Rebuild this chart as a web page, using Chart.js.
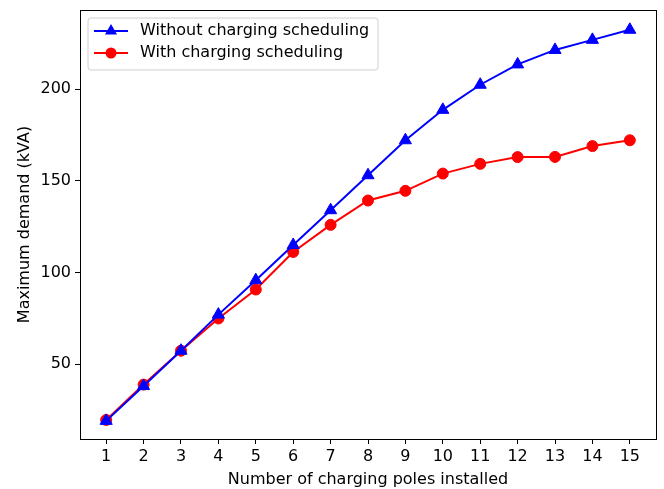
<!DOCTYPE html>
<html lang="en">
<head>
    <meta charset="UTF-8">
    <title>Maximum demand vs charging poles</title>
    <style>
        html, body { margin: 0; padding: 0; background: #fff; }
        .wrap { width: 664px; height: 489px; }
    </style>
</head>
<body>
    <div class="wrap"><canvas id="demandChart" width="664" height="489"></canvas></div>
    <script src="https://cdn.jsdelivr.net/npm/chart.js"></script>
    <script>
        // Number of charging poles installed
        const poles = [1, 2, 3, 4, 5, 6, 7, 8, 9, 10, 11, 12, 13, 14, 15];
        // Maximum demand (kVA)
        const withoutScheduling = [19, 38, 57.3, 77, 95.8, 115, 134, 153.1, 172.2, 188.8, 202.5, 213.6, 221.5, 227, 232.5];
        const withScheduling = [19.5, 38.8, 57.3, 74.9, 90.7, 111.2, 126, 139.3, 144.6, 154, 159.3, 163, 163.1, 169, 172.2];
        const yTicks = [50, 100, 150, 200];

        const FONT = "'DejaVu Sans', sans-serif";
        const FONT_SIZE = 16;

        // Legend box in the upper left, drawn inside the plot area
        const legendPlugin = {
            id: 'boxLegend',
            afterDatasetsDraw(chart) {
                const ctx = chart.ctx;
                const a = chart.chartArea;
                const x0 = a.left + 8, y0 = a.top + 8, w = 290, h = 52;
                ctx.save();
                ctx.beginPath();
                ctx.roundRect(x0, y0, w, h, 3);
                ctx.fillStyle = 'rgba(255,255,255,0.8)';
                ctx.fill();
                ctx.strokeStyle = '#d0d0d0';
                ctx.lineWidth = 1;
                ctx.stroke();

                const rows = [
                    { label: chart.data.datasets[0].label, color: 'blue', style: 'triangle', r: 7 },
                    { label: chart.data.datasets[1].label, color: 'red', style: 'circle', r: 5.5 }
                ];
                rows.forEach((row, i) => {
                    const cy = y0 + 13 + i * 22;
                    const mx = x0 + 23;
                    ctx.beginPath();
                    ctx.moveTo(x0 + 6, cy);
                    ctx.lineTo(x0 + 40, cy);
                    ctx.strokeStyle = row.color;
                    ctx.lineWidth = 2;
                    ctx.stroke();
                    ctx.beginPath();
                    ctx.fillStyle = row.color;
                    if (row.style === 'circle') {
                        ctx.arc(mx, cy, row.r, 0, Math.PI * 2);
                    } else {
                        const r = row.r;
                        ctx.moveTo(mx, cy - r);
                        ctx.lineTo(mx + r * 0.866, cy + r * 0.5);
                        ctx.lineTo(mx - r * 0.866, cy + r * 0.5);
                        ctx.closePath();
                    }
                    ctx.fill();
                    ctx.fillStyle = '#000';
                    ctx.font = FONT_SIZE + 'px ' + FONT;
                    ctx.textBaseline = 'middle';
                    ctx.textAlign = 'left';
                    ctx.fillText(row.label, x0 + 52, cy);
                });
                ctx.restore();
            }
        };

        // Full frame around the plot area
        const framePlugin = {
            id: 'frame',
            afterDraw(chart) {
                const a = chart.chartArea;
                const ctx = chart.ctx;
                ctx.save();
                ctx.strokeStyle = '#000';
                ctx.lineWidth = 1;
                ctx.strokeRect(Math.round(a.left) + 0.5, Math.round(a.top) + 0.5,
                    Math.round(a.right - a.left), Math.round(a.bottom - a.top));
                ctx.restore();
            }
        };

        const ctxDemand = document.getElementById('demandChart').getContext('2d');
        new Chart(ctxDemand, {
            type: 'line',
            data: {
                datasets: [{
                    label: 'Without charging scheduling',
                    data: poles.map((p, i) => ({ x: p, y: withoutScheduling[i] })),
                    borderColor: 'blue',
                    backgroundColor: 'blue',
                    borderWidth: 2,
                    pointStyle: 'triangle',
                    pointRadius: 7,
                    pointBorderWidth: 1,
                    tension: 0
                }, {
                    label: 'With charging scheduling',
                    data: poles.map((p, i) => ({ x: p, y: withScheduling[i] })),
                    borderColor: 'red',
                    backgroundColor: 'red',
                    borderWidth: 2,
                    pointStyle: 'circle',
                    pointRadius: 5.5,
                    pointBorderWidth: 1,
                    tension: 0
                }]
            },
            options: {
                responsive: false,
                animation: false,
                devicePixelRatio: 1,
                layout: { padding: { left: 0, top: 10, right: 8, bottom: 0 } },
                plugins: {
                    legend: { display: false },
                    tooltip: { enabled: false }
                },
                scales: {
                    x: {
                        type: 'linear',
                        min: 0.3,
                        max: 15.7,
                        afterBuildTicks(axis) { axis.ticks = poles.map(v => ({ value: v })); },
                        afterFit(axis) {
                            axis.height = 50;
                            axis.paddingLeft = 0;
                            axis.paddingRight = 0;
                        },
                        grid: { display: true, drawOnChartArea: false, drawTicks: true, tickLength: 5, color: '#000' },
                        border: { display: true, color: '#000', width: 1 },
                        ticks: { color: '#000', font: { family: FONT, size: FONT_SIZE }, padding: 3, maxRotation: 0, autoSkip: false },
                        title: { display: true, text: 'Number of charging poles installed', color: '#000', font: { family: FONT, size: FONT_SIZE }, padding: { top: 0, bottom: 0 } }
                    },
                    y: {
                        min: 9.1,
                        max: 243.3,
                        afterBuildTicks(axis) { axis.ticks = yTicks.map(v => ({ value: v })); },
                        afterFit(axis) {
                            axis.width = 80;
                            axis.paddingTop = 0;
                            axis.paddingBottom = 0;
                        },
                        grid: { display: true, drawOnChartArea: false, drawTicks: true, tickLength: 5, color: '#000' },
                        border: { display: true, color: '#000', width: 1 },
                        ticks: { color: '#000', font: { family: FONT, size: FONT_SIZE }, padding: 4 },
                        title: { display: true, text: 'Maximum demand (kVA)', color: '#000', font: { family: FONT, size: FONT_SIZE }, padding: { top: 15, bottom: 0 } }
                    }
                }
            },
            plugins: [legendPlugin, framePlugin]
        });
    </script>
</body>
</html>
